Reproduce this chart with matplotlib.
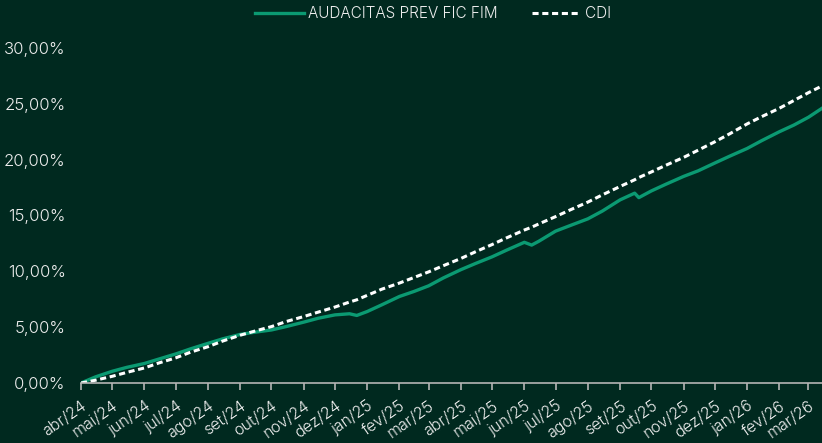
import numpy as np
import pandas as pd
import matplotlib
matplotlib.use("Agg")
import matplotlib.pyplot as plt

# dados (retorno acumulado, %)
datas = ["2024-04-01", "2024-04-15", "2024-05-01", "2024-05-15", "2024-06-01", "2024-06-15",
         "2024-07-01", "2024-07-15", "2024-08-01", "2024-08-15", "2024-09-01", "2024-09-15",
         "2024-10-01", "2024-10-15", "2024-11-01", "2024-11-15", "2024-12-01", "2024-12-15",
         "2024-12-22", "2025-01-01", "2025-01-15", "2025-02-01", "2025-02-15", "2025-03-01",
         "2025-03-15", "2025-04-01", "2025-04-15", "2025-05-01", "2025-05-15", "2025-06-01",
         "2025-06-08", "2025-06-15", "2025-07-01", "2025-07-15", "2025-08-01", "2025-08-15",
         "2025-09-01", "2025-09-15", "2025-09-19", "2025-10-01", "2025-10-15", "2025-11-01",
         "2025-11-15", "2025-12-01", "2025-12-15", "2026-01-01", "2026-01-15", "2026-02-01",
         "2026-02-15", "2026-03-01", "2026-03-14"]
fundo = [0.00, 0.55, 1.05, 1.40, 1.75, 2.15, 2.60, 3.05, 3.55, 3.95, 4.35, 4.55,
         4.75, 5.05, 5.45, 5.80, 6.10, 6.20, 6.05, 6.40, 7.00, 7.75, 8.20, 8.70,
         9.40, 10.15, 10.70, 11.30, 11.90, 12.60, 12.35, 12.70, 13.60, 14.10, 14.70, 15.40,
         16.40, 17.00, 16.60, 17.20, 17.80, 18.50, 19.00, 19.70, 20.30, 21.00, 21.70, 22.50,
         23.10, 23.80, 24.60]
cdi = [0.00, 0.25, 0.60, 0.95, 1.35, 1.80, 2.25, 2.75, 3.25, 3.75, 4.28, 4.65,
       5.05, 5.50, 5.95, 6.35, 6.80, 7.25, 7.45, 7.85, 8.40, 8.95, 9.45, 9.95,
       10.50, 11.15, 11.75, 12.40, 13.00, 13.70, 13.95, 14.25, 14.90, 15.50, 16.20, 16.85,
       17.60, 18.20, 18.40, 18.90, 19.50, 20.20, 20.85, 21.60, 22.30, 23.20, 23.85, 24.60,
       25.30, 26.00, 26.60]
meses = ["jan", "fev", "mar", "abr", "mai", "jun", "jul", "ago", "set", "out", "nov", "dez"]

df = pd.DataFrame({"fundo": fundo, "cdi": cdi}, index=pd.to_datetime(datas))

fundo_bg = "#00291f"
verde = "#0b9a72"
texto = "#eeeeee"
plt.rcParams['font.family'] = ['Inter', 'Liberation Sans', 'DejaVu Sans']
plt.rcParams['font.weight'] = 300

fig = plt.figure(figsize=(8.22, 4.43), dpi=100, facecolor=fundo_bg)
ax = fig.add_axes([81/822, 1 - 383/443, 1 - 81/822, (383 - 48)/443])
ax.set_facecolor(fundo_bg)

ax.plot(df.index, df["fundo"], color=verde, lw=2.4, label="AUDACITAS PREV FIC FIM")
ax.plot(df.index, df["cdi"], color="white", lw=2.2, dashes=(2, 1.2), label="CDI")

ax.set_xlim(df.index[0], df.index[-1])
ax.set_ylim(0, 30)
ax.set_yticks(np.arange(0, 31, 5))
ax.set_yticklabels(["{:.2f}%".format(v).replace(".", ",") for v in range(0, 31, 5)])

ticks = pd.date_range("2024-04-01", "2026-03-01", freq="MS")
ax.set_xticks(ticks)
ax.set_xticklabels(["{}/{}".format(meses[d.month - 1], str(d.year)[2:]) for d in ticks],
                   rotation=35, ha="right", rotation_mode="anchor")

for s in ["top", "right", "left"]:
    ax.spines[s].set_visible(False)
ax.spines["bottom"].set_color("#b5b5b5")
ax.spines["bottom"].set_linewidth(1.2)
ax.tick_params(axis="x", colors="#b5b5b5", length=5, width=1.2, labelcolor=texto, labelsize=11.5, pad=6)
ax.tick_params(axis="y", length=0, labelcolor=texto, labelsize=12, pad=11)

# legenda no topo
fig.legend(loc="center", bbox_to_anchor=(433/822, 1 - 14/443), ncol=2, frameon=False,
           fontsize=11, labelcolor=texto, handlelength=3.2, columnspacing=2.2, handletextpad=0.3)

fig.savefig("out.png", dpi=100, facecolor=fundo_bg)
